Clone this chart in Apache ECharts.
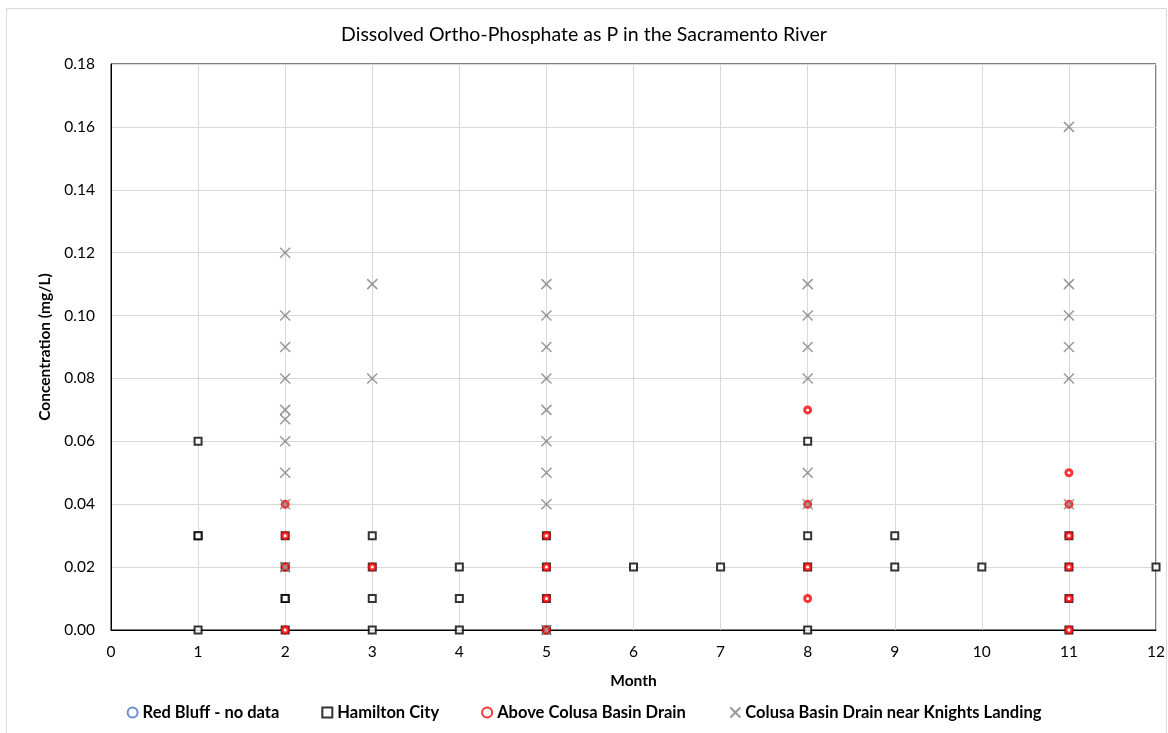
<!DOCTYPE html>
<html>
<head>
<meta charset="utf-8">
<script src="https://cdn.jsdelivr.net/npm/echarts@6/dist/echarts.min.js"></script>
<style>
    html, body { margin: 0; padding: 0; background: #fff; }
    #chart { width: 1168px; height: 733px; }
</style>
</head>
<body>
<div id="chart"></div>
<script>
    // [month, concentration mg/L]
    var redBluff = [];
    var hamiltonCity = [
        [1, 0.06], [1, 0.03], [1, 0.03], [1, 0.00],
        [2, 0.03], [2, 0.02], [2, 0.01], [2, 0.01], [2, 0.00],
        [3, 0.03], [3, 0.02], [3, 0.01], [3, 0.00],
        [4, 0.02], [4, 0.01], [4, 0.00],
        [5, 0.03], [5, 0.02], [5, 0.01], [5, 0.00],
        [6, 0.02], [7, 0.02],
        [8, 0.06], [8, 0.03], [8, 0.02], [8, 0.00],
        [9, 0.03], [9, 0.02],
        [10, 0.02],
        [11, 0.03], [11, 0.02], [11, 0.01], [11, 0.00],
        [12, 0.02]
    ];
    var aboveColusa = [
        [2, 0.04], [2, 0.03], [2, 0.02], [2, 0.00],
        [3, 0.02],
        [5, 0.03], [5, 0.02], [5, 0.01], [5, 0.00],
        [8, 0.07], [8, 0.04], [8, 0.02], [8, 0.01],
        [11, 0.05], [11, 0.04], [11, 0.03], [11, 0.02], [11, 0.01], [11, 0.00]
    ];
    var colusaDrain = [
        [2, 0.12], [2, 0.10], [2, 0.09], [2, 0.08], [2, 0.07], [2, 0.067],
        [2, 0.06], [2, 0.05], [2, 0.04], [2, 0.02],
        [3, 0.11], [3, 0.08],
        [5, 0.11], [5, 0.10], [5, 0.09], [5, 0.08], [5, 0.07], [5, 0.06],
        [5, 0.05], [5, 0.04], [5, 0.00],
        [8, 0.11], [8, 0.10], [8, 0.09], [8, 0.08], [8, 0.05], [8, 0.04],
        [11, 0.16], [11, 0.11], [11, 0.10], [11, 0.09], [11, 0.08], [11, 0.04]
    ];
    var seriesNames = ['Red Bluff - no data', 'Hamilton City', 'Above Colusa Basin Drain', 'Colusa Basin Drain near Knights Landing'];

    var font = 'Lato, "Open Sans", sans-serif';
    var crossPath = 'path://M0,0L10,10M10,0L0,10';

    var chart = echarts.init(document.getElementById('chart'));
    chart.setOption({
        animation: false,
        textStyle: { fontFamily: font },
        graphic: [{
            type: 'rect',
            shape: { x: 6.5, y: 8.5, width: 1160, height: 730 },
            style: { fill: 'none', stroke: '#d9d9d9', lineWidth: 1 },
            silent: true
        }],
        title: {
            text: 'Dissolved Ortho-Phosphate as P in the Sacramento River',
            left: 'center',
            top: 20,
            textStyle: { fontFamily: font, fontSize: 19.5, fontWeight: 'normal', color: '#000' }
        },
        legend: {
            bottom: 7,
            left: 'center',
            itemGap: 42,
            itemWidth: 10,
            itemHeight: 10,
            textStyle: { fontFamily: font, fontSize: 16.5, fontWeight: 'bold', color: '#000' },
            data: seriesNames
        },
        grid: {
            left: 111,
            right: 11,
            top: 64,
            bottom: 103,
            show: true,
            borderColor: '#000',
            borderWidth: 1
        },
        xAxis: {
            type: 'value',
            min: 0,
            max: 12,
            interval: 1,
            name: 'Month',
            nameLocation: 'middle',
            nameGap: 43,
            nameTextStyle: { fontFamily: font, fontSize: 15.5, fontWeight: 'bold', color: '#000' },
            axisLine: { show: true, lineStyle: { color: '#000', width: 1 } },
            axisTick: { show: false },
            axisLabel: { fontFamily: font, fontSize: 15.5, color: '#000', margin: 14 },
            splitLine: { show: true, lineStyle: { color: '#d9d9d9', width: 1 } }
        },
        yAxis: {
            type: 'value',
            min: 0,
            max: 0.18,
            interval: 0.02,
            name: 'Concentration (mg/L)',
            nameLocation: 'middle',
            nameGap: 58,
            nameTextStyle: { fontFamily: font, fontSize: 15.5, fontWeight: 'bold', color: '#000' },
            axisLine: { show: true, lineStyle: { color: '#000', width: 1 } },
            axisTick: { show: false },
            axisLabel: {
                fontFamily: font, fontSize: 15.5, color: '#000', margin: 16,
                formatter: function (v) { return v.toFixed(2); }
            },
            splitLine: { show: true, lineStyle: { color: '#d9d9d9', width: 1 } }
        },
        series: [
            {
                name: seriesNames[0],
                type: 'scatter',
                symbol: 'circle',
                symbolSize: 9,
                itemStyle: { color: '#fff', borderColor: '#4472c4', borderWidth: 1.5 },
                data: redBluff
            },
            {
                name: seriesNames[1],
                type: 'scatter',
                symbol: 'rect',
                symbolSize: 7,
                itemStyle: { color: '#fff', borderColor: '#000', borderWidth: 2 },
                data: hamiltonCity
            },
            {
                name: seriesNames[2],
                type: 'scatter',
                symbol: 'circle',
                symbolSize: 6,
                itemStyle: { color: '#fff', borderColor: '#ff0000', borderWidth: 3 },
                data: aboveColusa
            },
            {
                name: seriesNames[3],
                type: 'scatter',
                symbol: crossPath,
                symbolSize: 10,
                itemStyle: { color: 'none', borderColor: '#808080', borderWidth: 1.5 },
                data: colusaDrain
            }
        ]
    });
</script>
</body>
</html>
